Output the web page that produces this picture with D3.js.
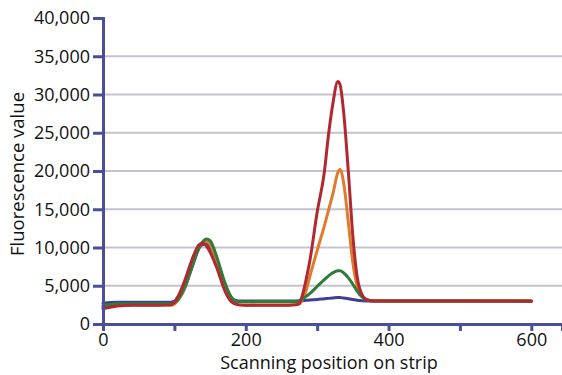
<html>
<head>
<script src="https://cdn.jsdelivr.net/npm/d3@7/dist/d3.min.js"></script>
<style>
body { margin: 0; background: #fff; }
svg text { font-family: "Open Sans", sans-serif; fill: #111; }
</style>
</head>
<body>
<svg width="562" height="375"></svg>
<script>
// scanning positions shared by every trace
var positions = [0, 10, 20, 40, 60, 80, 95, 105, 115, 125, 135, 140, 145, 150, 160, 170, 180, 190, 200,
                 230, 260, 270, 275, 280, 285, 290, 300, 310, 316, 322, 329, 332, 337, 344, 350, 356, 362,
                 370, 380, 400, 500, 600];

var blueVals = [2700, 2800, 2850, 2850, 2850, 2850, 2850, 3200, 4800, 7500, 10000, 10400, 10400, 10000, 7800, 5000, 3300, 3000, 3000,
                3000, 3000, 3000, 3000, 3050, 3100, 3150, 3200, 3300, 3350, 3400, 3450, 3450, 3400, 3300, 3200, 3100, 3050,
                3000, 3000, 3000, 3000, 2950];
var orangeVals = [2200, 2350, 2450, 2500, 2500, 2500, 2450, 3100, 4900, 7700, 10100, 10700, 10800, 10400, 8000, 5000, 3000, 2500, 2450,
                  2500, 2500, 2550, 2600, 3300, 4500, 6300, 9600, 12800, 14900, 17000, 19800, 20200, 18500, 13000, 8000, 5000, 3700,
                  3150, 3000, 3000, 3000, 3000];
var greenVals = [2400, 2550, 2650, 2650, 2650, 2650, 2650, 3200, 5000, 7600, 10000, 10800, 11100, 10900, 8600, 5600, 3500, 2900, 2900,
                 2950, 2950, 2950, 3050, 3300, 3650, 4000, 4900, 5800, 6300, 6700, 6950, 6950, 6700, 6000, 5200, 4300, 3600,
                 3150, 3000, 3000, 3000, 3000];
var redVals = [2000, 2200, 2350, 2450, 2450, 2450, 2500, 3600, 5800, 8500, 10400, 10550, 10200, 9400, 7200, 4500, 2900, 2500, 2450,
               2450, 2450, 2500, 2700, 4000, 6000, 8400, 14600, 19800, 24800, 28800, 31700, 31300, 27800, 19500, 11500, 6200, 4000,
               3150, 3000, 3000, 3000, 3000];

var seriesNames = ["blue", "orange", "green", "red"];
var seriesColors = ["#3c4196", "#de7b2c", "#2f7b3b", "#b1282f"];
var seriesVals = [blueVals, orangeVals, greenVals, redVals];

var xTicks = [0, 100, 200, 300, 400, 500, 600];
var xLabels = [0, 200, 400, 600];
var yTicks = [0, 5000, 10000, 15000, 20000, 25000, 30000, 35000, 40000];
var gridVals = [5000, 10000, 15000, 20000, 25000, 30000, 35000];

var svg = d3.select("svg");
var axisColor = "#4b4f9a";

var x = d3.scaleLinear().domain([0, 643]).range([103, 562]);
var y = d3.scaleLinear().domain([0, 40000]).range([324, 18]);

// grid
svg.append("g").selectAll("line")
    .data(gridVals)
  .enter().append("line")
    .attr("x1", x(0)).attr("x2", x.range()[1])
    .attr("y1", function(d) { return y(d); })
    .attr("y2", function(d) { return y(d); })
    .attr("stroke", "#c3c3cf")
    .attr("stroke-width", 2);

// lines
var line = d3.line()
    .x(function(d, i) { return x(positions[i]); })
    .y(function(d) { return y(d); })
    .curve(d3.curveMonotoneX);

svg.append("g").selectAll("path")
    .data(seriesVals)
  .enter().append("path")
    .attr("class", function(d, i) { return "trace " + seriesNames[i]; })
    .attr("d", line)
    .attr("fill", "none")
    .attr("stroke", function(d, i) { return seriesColors[i]; })
    .attr("stroke-width", 3)
    .attr("stroke-linejoin", "round")
    .attr("stroke-linecap", "round");

// x axis
var gx = svg.append("g")
    .attr("transform", "translate(0," + y(0) + ")")
    .call(d3.axisBottom(x).tickValues(xTicks).tickSizeOuter(0).tickSize(7).tickPadding(2)
      .tickFormat(function(d) { return xLabels.indexOf(d) >= 0 ? d : ""; }));

// y axis
var gy = svg.append("g")
    .attr("transform", "translate(" + x(0) + ",0)")
    .call(d3.axisLeft(y).tickValues(yTicks).tickSizeOuter(0).tickSize(10).tickPadding(3)
      .tickFormat(d3.format(",")));

[gx, gy].forEach(function(g) {
  g.select(".domain").attr("stroke", axisColor).attr("stroke-width", 3);
  g.selectAll(".tick line").attr("stroke", axisColor).attr("stroke-width", 3);
  g.selectAll(".tick text").attr("font-size", 18).attr("font-family", "Open Sans").attr("fill", "#111");
});

svg.append("text")
    .attr("x", 329).attr("y", 369)
    .attr("text-anchor", "middle")
    .attr("font-size", 18)
    .text("Scanning position on strip");

svg.append("text")
    .attr("transform", "translate(24,174) rotate(-90)")
    .attr("text-anchor", "middle")
    .attr("font-size", 18.5)
    .text("Fluorescence value");
</script>
</body>
</html>
